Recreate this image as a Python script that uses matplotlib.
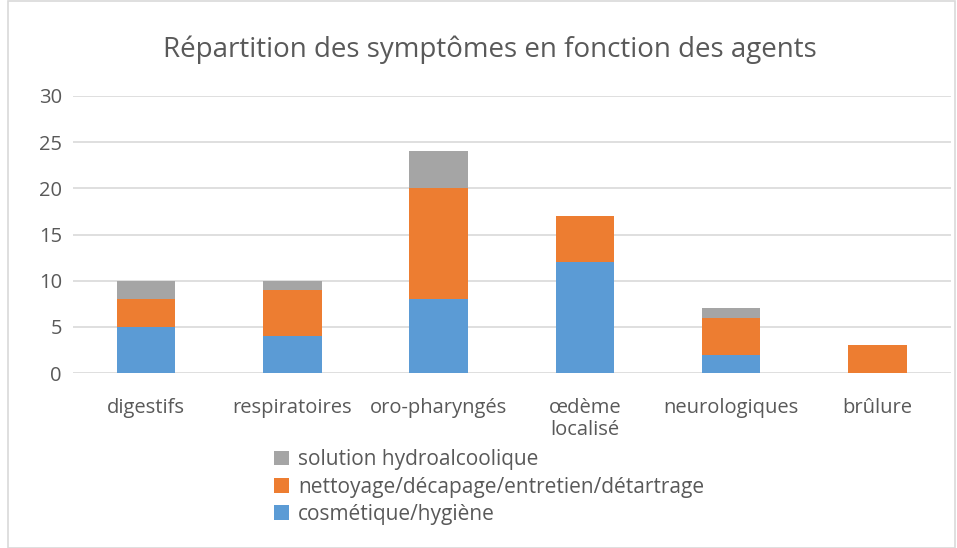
import numpy as np
import matplotlib.pyplot as plt
from matplotlib.patches import Rectangle

categories = ["digestifs", "respiratoires", "oro-pharyngés", "œdème\nlocalisé", "neurologiques", "brûlure"]
cosmetique = [5, 4, 8, 12, 2, 0]
nettoyage = [3, 5, 12, 5, 4, 3]
hydroalcool = [2, 1, 4, 0, 1, 0]
series_names = ["cosmétique/hygiène", "nettoyage/décapage/entretien/détartrage", "solution hydroalcoolique"]
colors = ["#5B9BD5", "#ED7D31", "#A5A5A5"]
yticks = [0, 5, 10, 15, 20, 25, 30]

plt.rcParams['font.family'] = ['Open Sans', 'DejaVu Sans']
txt = "#595959"

fig = plt.figure(figsize=(9.57, 5.48), dpi=100)
fig.patches.append(Rectangle((0.008, 0.0), 0.99, 0.998, transform=fig.transFigure,
                             fill=False, edgecolor="#D9D9D9", linewidth=1.2))
ax = fig.add_axes([0.0763, 0.319, 0.917, 0.506])

x = np.arange(len(categories))
w = 0.4
b1 = np.array(cosmetique)
b2 = b1 + np.array(nettoyage)
ax.bar(x, cosmetique, w, color=colors[0], label=series_names[0], zorder=3)
ax.bar(x, nettoyage, w, bottom=b1, color=colors[1], label=series_names[1], zorder=3)
ax.bar(x, hydroalcool, w, bottom=b2, color=colors[2], label=series_names[2], zorder=3)

ax.set_xlim(-0.5, len(categories) - 0.5)
ax.set_ylim(0, 30)
ax.set_yticks(yticks)
ax.set_xticks(x)
ax.set_xticklabels(categories, linespacing=1.1)
ax.grid(axis='y', color="#D9D9D9", linewidth=1.2, zorder=0)
for s in ax.spines.values():
    s.set_visible(False)
ax.tick_params(length=0, labelsize=14.5, colors=txt)
ax.tick_params(axis='x', pad=18)
ax.tick_params(axis='y', pad=8)

fig.text(0.512, 0.909, "Répartition des symptômes en fonction des agents", ha='center', va='center',
         fontsize=20, color=txt)

h, l = ax.get_legend_handles_labels()
fig.legend(h[::-1], l[::-1], loc='upper left', bbox_to_anchor=(0.278, 0.195), frameon=False,
           fontsize=15, labelcolor=txt, handlelength=0.7, handleheight=0.7,
           handletextpad=0.45, labelspacing=0.3, borderaxespad=0)

fig.savefig("out.png", dpi=100)
